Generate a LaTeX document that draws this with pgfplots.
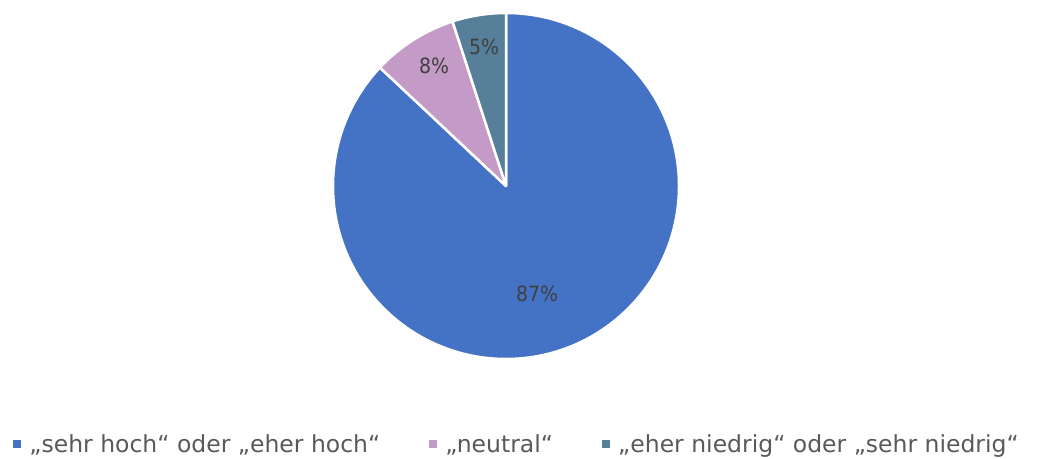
\documentclass[border=0pt]{standalone}
\usepackage{pgfplots}
\pgfplotsset{compat=1.18}
\usepackage{fontspec}
\setmainfont{DejaVu Sans}
\newfontfamily\condensed{DejaVu Sans Condensed}
\definecolor{cHigh}{HTML}{4472C4}
\definecolor{cNeutral}{HTML}{C39BC6}
\definecolor{cLow}{HTML}{577F9A}
\definecolor{labelgray}{HTML}{404040}
\definecolor{legendgray}{HTML}{595959}
% pie centre and radius in pixel units of the 1045x459 canvas
\def\cx{506}
\def\cy{273}
\def\R{173}
\begin{document}
\begin{tikzpicture}
\begin{axis}[
    width=1045bp, height=459bp,
    scale only axis,
    xmin=0, xmax=1045, ymin=0, ymax=459,
    hide axis,
    clip=false,
    legend columns=3,
    legend style={
        at={(axis cs:13,15)}, anchor=west,
        draw=none, fill=none,
        font=\fontsize{23.5bp}{27bp}\selectfont,
        text=legendgray,
        /tikz/every even column/.append style={column sep=47bp},
        inner sep=0pt,
        nodes={inner sep=2bp},
    },
    legend image code/.code={
        \fill[#1, draw=none] (0bp,-4bp) rectangle (8bp,4bp);
        \path (14bp,0bp);
    },
]
% values: 87, 8, 5 (percent), clockwise from 12 o'clock
\addlegendimage{fill=cHigh}
\addlegendentry{„sehr hoch“ oder „eher hoch“}
\addlegendimage{fill=cNeutral}
\addlegendentry{„neutral“}
\addlegendimage{fill=cLow}
\addlegendentry{„eher niedrig“ oder „sehr niedrig“}

% keep the whole canvas in the bounding box
\path (axis cs:0,0) rectangle (axis cs:1045,459);

\fill[cHigh, draw=white, line width=2.5bp, line join=round]
    (axis cs:\cx,\cy) -- ++(90:\R bp) arc[start angle=90, end angle={90-3.6*87}, radius=\R bp] -- cycle;
\fill[cNeutral, draw=white, line width=2.5bp, line join=round]
    (axis cs:\cx,\cy) -- ++({90-3.6*87}:\R bp) arc[start angle={90-3.6*87}, end angle={90-3.6*95}, radius=\R bp] -- cycle;
\fill[cLow, draw=white, line width=2.5bp, line join=round]
    (axis cs:\cx,\cy) -- ++({90-3.6*95}:\R bp) arc[start angle={90-3.6*95}, end angle={90-3.6*100}, radius=\R bp] -- cycle;

\node[text=labelgray, font=\condensed\fontsize{21bp}{25bp}\selectfont] at (axis cs:537,165) {87\%};
\node[text=labelgray, font=\condensed\fontsize{21bp}{25bp}\selectfont] at (axis cs:434,393) {8\%};
\node[text=labelgray, font=\condensed\fontsize{21bp}{25bp}\selectfont] at (axis cs:484,412) {5\%};
\end{axis}
\end{tikzpicture}
\end{document}
